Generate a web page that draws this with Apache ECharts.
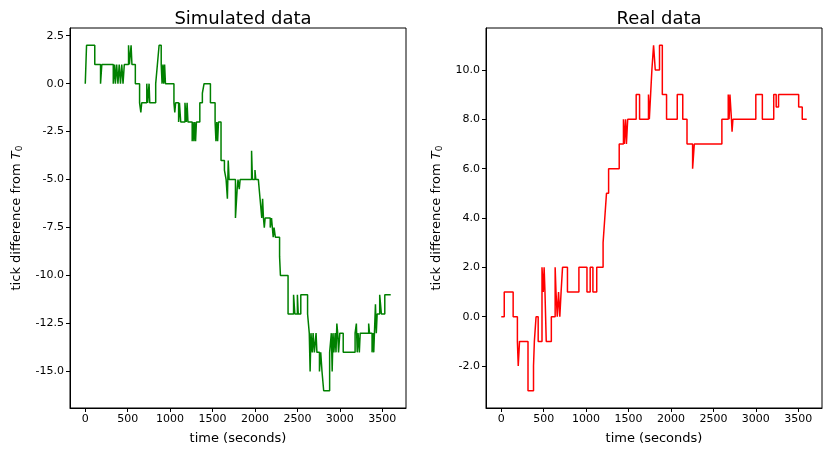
<!DOCTYPE html>
<html>
<head>
<meta charset="utf-8">
<script src="https://cdn.jsdelivr.net/npm/echarts@6/dist/echarts.min.js"></script>
<style>
  html, body { margin: 0; padding: 0; background: #fff; }
  #chart { width: 827px; height: 451px; }
</style>
</head>
<body>
<div id="chart"></div>
<script>
// simulated run (steps-post)
var simTime = [0, 15, 112, 180, 195, 330, 345, 355, 370, 385, 400, 415, 430, 445, 460, 510, 520, 540, 550, 590,
  640, 655, 665, 725, 735, 752, 760, 830, 850, 870, 895, 905, 915, 925, 935, 945, 1045, 1055, 1065, 1100,
  1110, 1125, 1175, 1190, 1200, 1210, 1260, 1270, 1280, 1290, 1300, 1310, 1350, 1380, 1400, 1475, 1530, 1540, 1550, 1560,
  1570, 1600, 1640, 1660, 1675, 1685, 1695, 1770, 1790, 1800, 1815, 1825, 1960, 1970, 2000, 2010, 2040, 2060, 2080, 2090,
  2100, 2110, 2120, 2180, 2195, 2215, 2225, 2240, 2290, 2300, 2390, 2455, 2470, 2500, 2510, 2540, 2620, 2640, 2650, 2660,
  2675, 2685, 2700, 2720, 2730, 2760, 2775, 2790, 2810, 2880, 2900, 2910, 2920, 2930, 2945, 2955, 2965, 2975, 2985, 3000,
  3040, 3180, 3195, 3205, 3215, 3230, 3240, 3340, 3350, 3380, 3390, 3400, 3420, 3430, 3440, 3470, 3490, 3530, 3600]
var simValue = [0, 2, 1, 0, 1, 0, 1, 0, 1, 0, 1, 0, 1, 0, 1, 2, 1, 2, 1, 0,
  -1, -1.5, -1, 0, -1, 0, -1, 0, 1, 2, 1, 0, 1, 0, 1, 0, -1, -1.5, -1, -2,
  -1, -2, -1, -2, -1, -2, -3, -2, -3, -2, -3, -2, -1, -0.5, 0, -1, -2, -3, -2, -3,
  -2, -4, -4.5, -5, -6, -4, -5, -7, -5.5, -5, -5.5, -5, -3.5, -5, -4.5, -5, -5, -6, -7, -6,
  -7, -7.5, -7, -7.5, -7, -8, -7.5, -8, -9, -10, -12, -11, -12, -11, -12, -11, -12, -13, -15, -13,
  -14, -13, -14, -13, -14, -15, -14, -15, -16, -14, -13, -15, -13, -14, -13, -14, -12.5, -13, -14, -13,
  -14, -13, -12.5, -14, -13, -14, -13, -12.5, -13, -14, -13, -14, -11.5, -13, -12, -11, -12, -11, -11]

// real run (steps-post)
var realTime = [0, 35, 140, 190, 200, 215, 315, 380, 390, 410, 435, 480, 495, 505, 515, 530, 590, 635, 645, 660,
  675, 690, 705, 722, 780, 915, 1010, 1048, 1080, 1125, 1200, 1220, 1240, 1265, 1390, 1440, 1450, 1465, 1475, 1490,
  1590, 1630, 1735, 1745, 1760, 1775, 1795, 1815, 1865, 1898, 1948, 2074, 2139, 2189, 2255, 2275, 2600, 2675, 2685, 2695,
  2713, 2720, 2730, 3000, 3077, 3211, 3240, 3268, 3505, 3547, 3600]
var realValue = [0, 1, 0, -1, -2, -1, -3, -2, -1, 0, -1, 2, 1, 2, 1, -1, 0, 2, 1, 0,
  1, 0, 1, 2, 1, 2, 1, 2, 1, 2, 3, 4, 5, 6, 7, 8, 7, 8, 7, 8,
  9, 8, 9, 8, 9, 10, 11, 10, 11, 9, 8, 9, 8, 7, 6, 7, 8, 9, 8, 9,
  8, 7.5, 8, 9, 8, 9, 8.5, 9, 8.5, 8, 8]

var xTicks = [0, 500, 1000, 1500, 2000, 2500, 3000, 3500]
var simTicks = [-15, -12.5, -10, -7.5, -5, -2.5, 0, 2.5]
var realTicks = [-2, 0, 2, 4, 6, 8, 10]

var font = 'DejaVu Sans'
var chart = echarts.init(document.getElementById('chart'))

function pairs(ts, vs) {
  return ts.map(function (t, i) { return [t, vs[i]] })
}

function xAxisOf(idx) {
  return {
    type: 'value',
    gridIndex: idx,
    min: -180,
    max: 3780,
    name: 'time (seconds)',
    nameLocation: 'middle',
    nameGap: 24,
    nameTextStyle: { fontFamily: font, fontSize: 13, color: '#000' },
    axisLine: { show: true, onZero: false, lineStyle: { color: '#000', width: 1 } },
    axisTick: { show: true, length: 4, customValues: xTicks, lineStyle: { color: '#000' } },
    axisLabel: {
      customValues: xTicks, fontFamily: font, fontSize: 11, color: '#000', margin: 6,
      formatter: function (v) { return String(v) }
    },
    splitLine: { show: false }
  }
}

function yAxisOf(idx, min, max, ticks, gap) {
  return {
    type: 'value',
    gridIndex: idx,
    min: min,
    max: max,
    name: 'tick difference from {i|T}{s|0}',
    nameLocation: 'middle',
    nameGap: gap,
    nameTextStyle: {
      fontFamily: font, fontSize: 13, color: '#000',
      rich: {
        i: { fontFamily: font, fontStyle: 'italic', fontSize: 13, color: '#000' },
        s: { fontFamily: font, fontSize: 9, color: '#000', verticalAlign: 'bottom', padding: [6, 0, 0, 0] }
      }
    },
    axisLine: { show: true, onZero: false, lineStyle: { color: '#000', width: 1 } },
    axisTick: { show: true, length: 4, customValues: ticks, lineStyle: { color: '#000' } },
    axisLabel: {
      customValues: ticks, fontFamily: font, fontSize: 11, color: '#000', margin: 6,
      formatter: function (v) { return v.toFixed(1) }
    },
    splitLine: { show: false }
  }
}

chart.setOption({
  animation: false,
  title: [
    { text: 'Simulated data', left: 238, top: 5, textAlign: 'center',
      textStyle: { fontFamily: font, fontSize: 18, fontWeight: 'normal', color: '#000' } },
    { text: 'Real data', left: 654, top: 5, textAlign: 'center',
      textStyle: { fontFamily: font, fontSize: 18, fontWeight: 'normal', color: '#000' } }
  ],
  grid: [
    { left: 70, top: 28, width: 336, height: 380, show: true, borderColor: '#000', borderWidth: 1, backgroundColor: '#fff' },
    { left: 486, top: 28, width: 336, height: 380, show: true, borderColor: '#000', borderWidth: 1, backgroundColor: '#fff' }
  ],
  xAxis: [xAxisOf(0), xAxisOf(1)],
  yAxis: [
    yAxisOf(0, -16.9, 2.9, simTicks, 46),
    yAxisOf(1, -3.7, 11.7, realTicks, 42)
  ],
  series: [
    {
      name: 'Simulated data',
      type: 'line',
      xAxisIndex: 0,
      yAxisIndex: 0,
      step: 'end',
      showSymbol: false,
      data: pairs(simTime, simValue),
      lineStyle: { color: '#008000', width: 1.5 }
    },
    {
      name: 'Real data',
      type: 'line',
      xAxisIndex: 1,
      yAxisIndex: 1,
      step: 'end',
      showSymbol: false,
      data: pairs(realTime, realValue),
      lineStyle: { color: '#ff0000', width: 1.5 }
    }
  ]
})
</script>
</body>
</html>
